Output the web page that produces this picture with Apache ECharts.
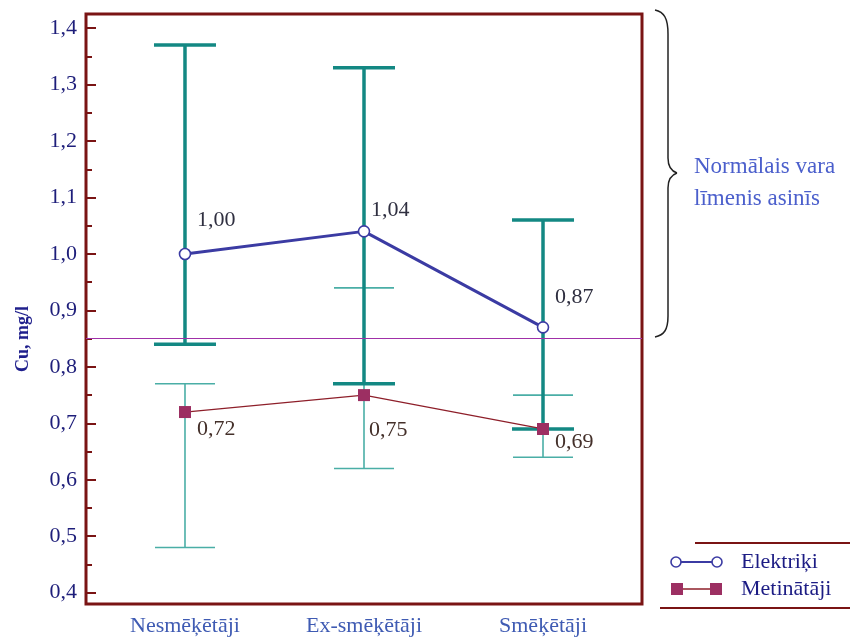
<!DOCTYPE html>
<html>
<head>
<meta charset="utf-8">
<title>Cu, mg/l</title>
<script src="https://cdn.jsdelivr.net/npm/echarts@6/dist/echarts.min.js"></script>
<style>
  html, body { margin: 0; padding: 0; background: #ffffff; }
  #chart { width: 850px; height: 637px; }
</style>
</head>
<body>
<div id="chart"></div>
<script>
// Groups compared
var categories = ['Nesmēķētāji', 'Ex-smēķētāji', 'Smēķētāji'];

// Elektriķi: mean and range
var elektrikiMean = [1.00, 1.04, 0.87];
var elektrikiLow  = [0.84, 0.77, 0.69];
var elektrikiHigh = [1.37, 1.33, 1.06];

// Metinātāji: mean and range
var metinatajiMean = [0.72, 0.75, 0.69];
var metinatajiLow  = [0.48, 0.62, 0.64];
var metinatajiHigh = [0.77, 0.94, 0.75];

// Lower limit of the normal copper level
var normalLevel = 0.85;

// Y axis tick values
var yTicks = [0.4, 0.5, 0.6, 0.7, 0.8, 0.9, 1.0, 1.1, 1.2, 1.3, 1.4];
var yMinorTicks = [0.45, 0.55, 0.65, 0.75, 0.85, 0.95, 1.05, 1.15, 1.25, 1.35];

var SERIF = '"Liberation Serif", "DejaVu Serif", serif';
var FRAME = '#7a1414';
var ELEK = '#3b3ba3';
var METI_LINE = '#8e1f2a';
var METI_MARK = '#9c2f62';

function comma(v, d) { return v.toFixed(d).replace('.', ','); }

// label placement for each point (dx, dy in px)
var elekLabelOffsets = [[12, -34], [7, -21], [12, -30]];
var metiLabelOffsets = [[12, 17], [5, 35], [12, 13]];

function pointsWithLabels(values, offsets) {
  return values.map(function (v, i) {
    return { value: [i, v], label: { offset: offsets[i] } };
  });
}

function rangeData(low, high) {
  return low.map(function (l, i) { return [i, l, high[i]]; });
}

function errorBarRenderer(lineWidth, color, capHalf) {
  return function (params, api) {
    var x = api.value(0);
    var lo = api.coord([x, api.value(1)]);
    var hi = api.coord([x, api.value(2)]);
    var style = { stroke: color, lineWidth: lineWidth };
    return {
      type: 'group',
      children: [
        { type: 'line', shape: { x1: lo[0], y1: hi[1], x2: lo[0], y2: lo[1] }, style: style },
        { type: 'line', shape: { x1: lo[0] - capHalf, y1: hi[1], x2: lo[0] + capHalf, y2: hi[1] }, style: style },
        { type: 'line', shape: { x1: lo[0] - capHalf, y1: lo[1], x2: lo[0] + capHalf, y2: lo[1] }, style: style }
      ]
    };
  };
}

// curly brace beside the plot, built from curve and line pieces
var braceStyle = { fill: 'none', stroke: '#222222', lineWidth: 1.5 };
var brace = [
  { type: 'bezierCurve', shape: { x1: 655, y1: 10, cpx1: 664, cpy1: 12, cpx2: 668, cpy2: 18, x2: 668, y2: 34 }, style: braceStyle },
  { type: 'line', shape: { x1: 668, y1: 34, x2: 668, y2: 158 }, style: braceStyle },
  { type: 'bezierCurve', shape: { x1: 668, y1: 158, cpx1: 668, cpy1: 166, cpx2: 671, cpy2: 171, x2: 677, y2: 173 }, style: braceStyle },
  { type: 'bezierCurve', shape: { x1: 677, y1: 173, cpx1: 671, cpy1: 175, cpx2: 668, cpy2: 180, x2: 668, y2: 188 }, style: braceStyle },
  { type: 'line', shape: { x1: 668, y1: 188, x2: 668, y2: 316 }, style: braceStyle },
  { type: 'bezierCurve', shape: { x1: 668, y1: 316, cpx1: 668, cpy1: 330, cpx2: 664, cpy2: 335, x2: 655, y2: 337 }, style: braceStyle }
];

var legendGraphics = [
  { type: 'line', shape: { x1: 695, y1: 543, x2: 850, y2: 543 }, style: { stroke: FRAME, lineWidth: 2 } },
  { type: 'line', shape: { x1: 660, y1: 608, x2: 850, y2: 608 }, style: { stroke: FRAME, lineWidth: 2 } },
  { type: 'line', shape: { x1: 676, y1: 562, x2: 717, y2: 562 }, style: { stroke: ELEK, lineWidth: 2 } },
  { type: 'circle', shape: { cx: 676, cy: 562, r: 5 }, style: { fill: '#ffffff', stroke: ELEK, lineWidth: 1.6 } },
  { type: 'circle', shape: { cx: 717, cy: 562, r: 5 }, style: { fill: '#ffffff', stroke: ELEK, lineWidth: 1.6 } },
  { type: 'text', x: 741, y: 562, style: { text: 'Elektriķi', fill: '#1c1c84', font: '22px ' + SERIF, verticalAlign: 'middle' } },
  { type: 'line', shape: { x1: 677, y1: 589, x2: 716, y2: 589 }, style: { stroke: METI_LINE, lineWidth: 1.3 } },
  { type: 'rect', shape: { x: 671, y: 583, width: 12, height: 12 }, style: { fill: METI_MARK } },
  { type: 'rect', shape: { x: 710, y: 583, width: 12, height: 12 }, style: { fill: METI_MARK } },
  { type: 'text', x: 741, y: 589, style: { text: 'Metinātāji', fill: '#1c1c84', font: '22px ' + SERIF, verticalAlign: 'middle' } }
];

var chart = echarts.init(document.getElementById('chart'), null, { renderer: 'canvas' });

var option = {
  backgroundColor: '#ffffff',
  animation: false,
  grid: {
    left: 86, right: 208, top: 14, bottom: 33,
    show: true, borderColor: FRAME, borderWidth: 3, backgroundColor: 'transparent'
  },
  xAxis: {
    type: 'value',
    min: -0.553, max: 2.553,
    axisLine: { show: false, onZero: false },
    axisTick: { show: false },
    splitLine: { show: false },
    axisLabel: {
      customValues: [0, 1, 2],
      formatter: function (v) { return categories[Math.round(v)]; },
      margin: 11,
      color: '#3f5bb3',
      fontFamily: SERIF,
      fontSize: 22
    }
  },
  yAxis: [
    {
      type: 'value',
      min: 0.38, max: 1.425,
      position: 'left',
      name: 'Cu, mg/l',
      nameLocation: 'middle',
      nameGap: 54,
      nameTextStyle: {
        color: '#1f1f8c', fontFamily: SERIF, fontSize: 18, fontWeight: 'bold',
        padding: [0, 60, 0, 0]
      },
      axisLine: { show: false, onZero: false },
      splitLine: { show: false },
      axisTick: {
        customValues: yTicks,
        inside: true, length: 10,
        lineStyle: { color: FRAME, width: 2 }
      },
      axisLabel: {
        customValues: yTicks,
        formatter: function (v) { return comma(v, 1); },
        margin: 9,
        color: '#1e1e7a',
        fontFamily: SERIF,
        fontSize: 22
      }
    },
    {
      type: 'value',
      min: 0.38, max: 1.425,
      position: 'left',
      offset: 0,
      axisLine: { show: false, onZero: false },
      splitLine: { show: false },
      axisLabel: { show: false },
      axisTick: {
        customValues: yMinorTicks,
        inside: true, length: 6,
        lineStyle: { color: FRAME, width: 2 }
      }
    }
  ],
  series: [
    {
      name: 'Metinātāji range',
      type: 'custom',
      renderItem: errorBarRenderer(1.6, '#4aaea6', 30),
      data: rangeData(metinatajiLow, metinatajiHigh),
      z: 2
    },
    {
      name: 'Elektriķi range',
      type: 'custom',
      renderItem: errorBarRenderer(3.5, '#138883', 31),
      data: rangeData(elektrikiLow, elektrikiHigh),
      z: 3
    },
    {
      name: 'Metinātāji',
      type: 'line',
      data: pointsWithLabels(metinatajiMean, metiLabelOffsets),
      lineStyle: { color: METI_LINE, width: 1.3 },
      symbol: 'rect',
      symbolSize: 12,
      itemStyle: { color: METI_MARK },
      label: {
        show: true, position: 'inside', align: 'left', verticalAlign: 'middle',
        formatter: function (p) { return comma(p.value[1], 2); },
        color: '#44302a', fontFamily: SERIF, fontSize: 22
      },
      markLine: {
        silent: true,
        symbol: 'none',
        label: { show: false },
        lineStyle: { color: '#a030a8', width: 1.2, type: 'solid' },
        data: [{ yAxis: normalLevel }]
      },
      z: 4
    },
    {
      name: 'Elektriķi',
      type: 'line',
      data: pointsWithLabels(elektrikiMean, elekLabelOffsets),
      lineStyle: { color: ELEK, width: 3 },
      symbol: 'circle',
      symbolSize: 11,
      showAllSymbol: true,
      itemStyle: { color: '#ffffff', borderColor: ELEK, borderWidth: 1.6 },
      label: {
        show: true, position: 'inside', align: 'left', verticalAlign: 'middle',
        formatter: function (p) { return comma(p.value[1], 2); },
        color: '#2f2f40', fontFamily: SERIF, fontSize: 22
      },
      z: 5
    }
  ],
  graphic: brace.concat([
    {
      type: 'text',
      x: 694, y: 151,
      style: {
        text: 'Normālais vara\nlīmenis asinīs',
        fill: '#4b5fcc', font: '23px ' + SERIF, lineHeight: 32
      }
    }
  ]).concat(legendGraphics)
};

chart.setOption(option);
</script>
</body>
</html>
